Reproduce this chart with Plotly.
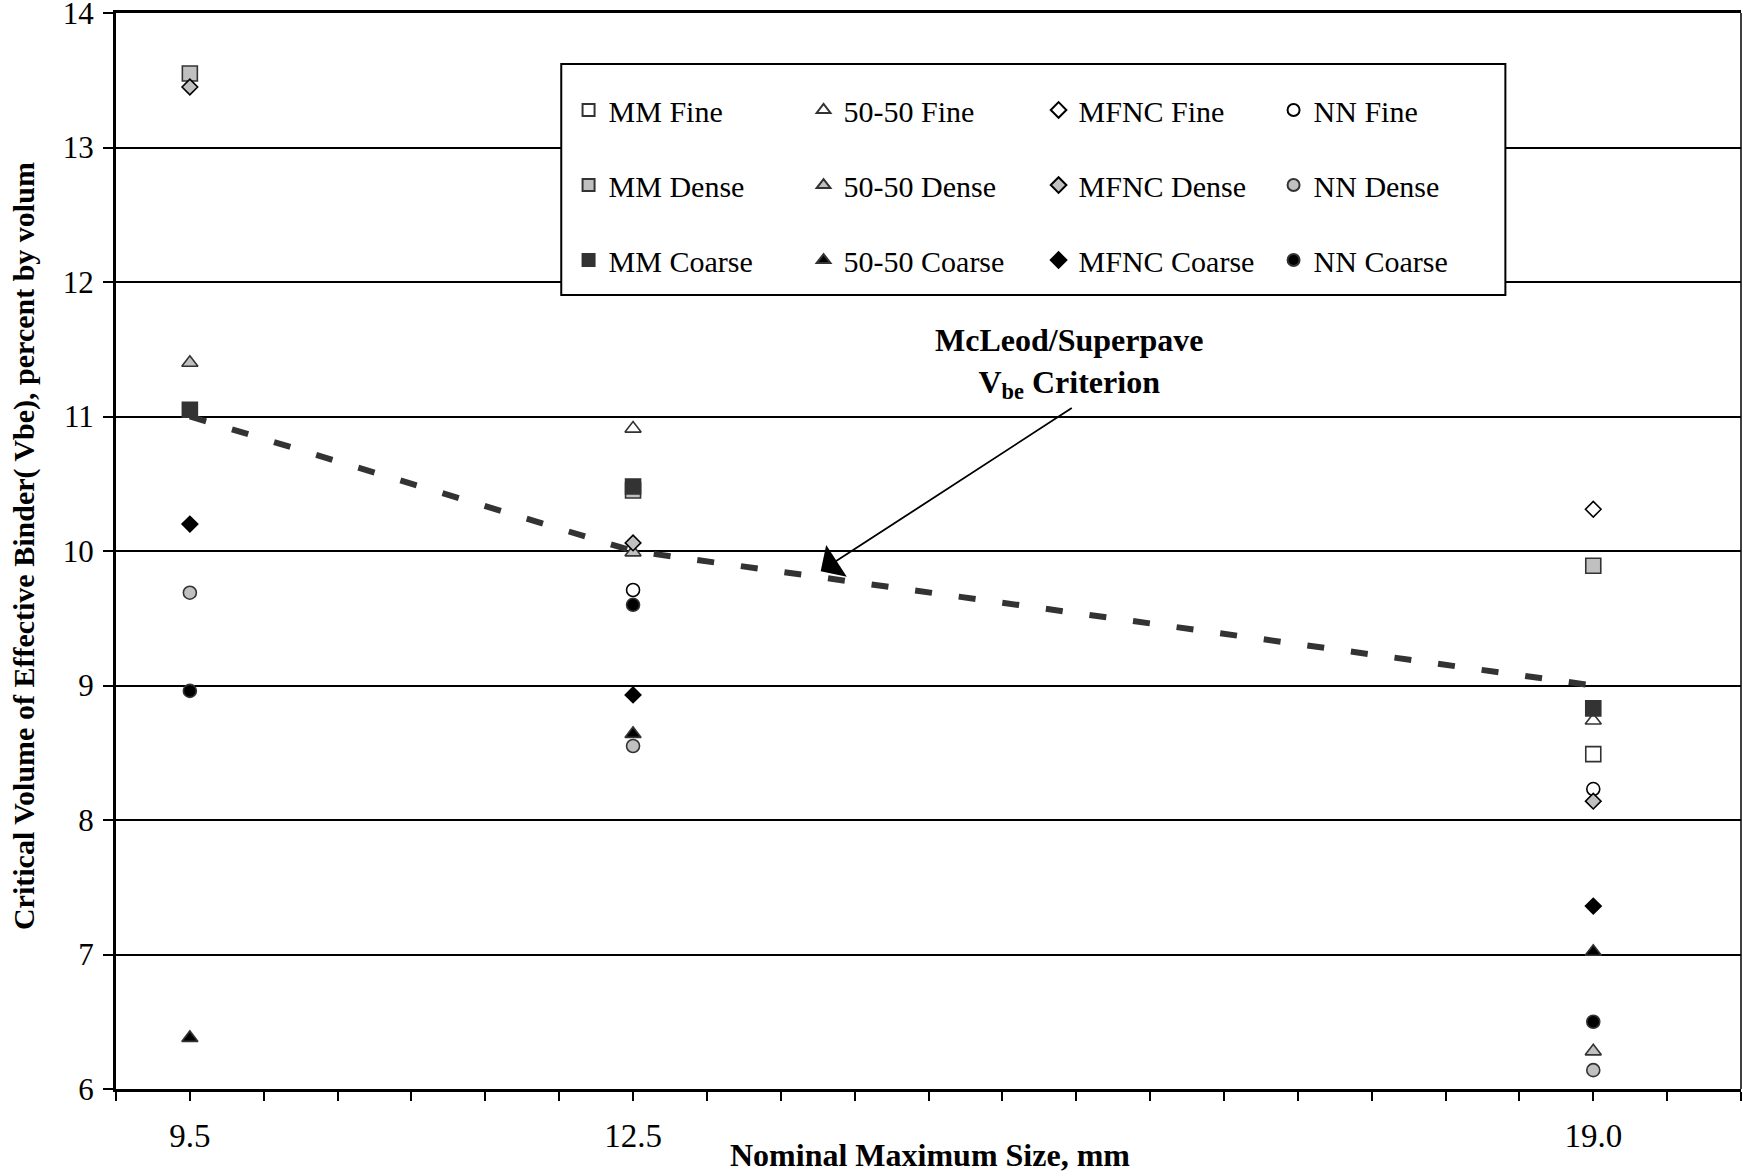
import plotly.graph_objects as go

# ---------------- data ----------------
sizes = [9.5, 12.5, 19.0]                 # nominal maximum size, mm
x_tick_labels = ["9.5", "12.5", "19.0"]

mm_fine = [None, None, 8.49]
fifty_fine = [None, 10.91, 8.74]
mfnc_fine = [None, None, 10.31]
nn_fine = [None, 9.71, 8.23]

mm_dense = [13.55, 10.45, 9.89]
fifty_dense = [11.40, 9.99, 6.28]
mfnc_dense = [13.45, 10.06, 8.14]
nn_dense = [9.69, 8.55, 6.14]

mm_coarse = [11.05, 10.48, 8.83]
fifty_coarse = [6.38, 8.64, 7.02]
mfnc_coarse = [10.20, 8.93, 7.36]
nn_coarse = [8.96, 9.60, 6.50]

criterion_vbe = [11.0, 10.0, 9.0]        # McLeod / Superpave Vbe criterion

# ---------------- styling ----------------
FONT = "Liberation Serif"
DARK = "#333333"
GREY = "#c0c0c0"

series = [
    # name, values, symbol, fill, outline, size, legend
    ("MM Fine", mm_fine, "square", "white", DARK, 15, "legend"),
    ("50-50 Fine", fifty_fine, "triangle-up", "white", DARK, 14, "legend"),
    ("MFNC Fine", mfnc_fine, "diamond", "white", "black", 12, "legend"),
    ("NN Fine", nn_fine, "circle", "white", "black", 13, "legend"),
    ("MM Dense", mm_dense, "square", GREY, DARK, 15, "legend2"),
    ("50-50 Dense", fifty_dense, "triangle-up", GREY, DARK, 14, "legend2"),
    ("MFNC Dense", mfnc_dense, "diamond", GREY, "black", 12, "legend2"),
    ("NN Dense", nn_dense, "circle", GREY, DARK, 13, "legend2"),
    ("MM Coarse", mm_coarse, "square", DARK, DARK, 15, "legend3"),
    ("50-50 Coarse", fifty_coarse, "triangle-up", "black", DARK, 14, "legend3"),
    ("MFNC Coarse", mfnc_coarse, "diamond", "black", "black", 12, "legend3"),
    ("NN Coarse", nn_coarse, "circle", "black", DARK, 13, "legend3"),
]

fig = go.Figure()

# criterion dashed line
fig.add_trace(go.Scatter(
    x=sizes, y=criterion_vbe, mode="lines",
    line=dict(color=DARK, width=6, dash="17px,27px"),
    showlegend=False, hoverinfo="skip",
))

for name, vals, sym, fill, outline, msize, leg in series:
    fig.add_trace(go.Scatter(
        x=sizes, y=vals, mode="markers", name=name, legend=leg,
        marker=dict(symbol=sym, size=msize, color=fill,
                    line=dict(color=outline, width=1.6)),
    ))

legend_common = dict(
    x=0.2785, xanchor="left", yanchor="middle", orientation="h",
    entrywidth=190, entrywidthmode="pixels",
    bgcolor="rgba(0,0,0,0)", borderwidth=0,
    font=dict(family=FONT, size=30, color="black"),
    itemsizing="constant",
)

fig.update_layout(
    width=1743, height=1176,
    margin=dict(l=116, r=2, t=13, b=87, autoexpand=False),
    paper_bgcolor="white", plot_bgcolor="white",
    font=dict(family=FONT, size=30, color="black"),
    showlegend=True,
    legend=dict(y=0.9099, **legend_common),
    legend2=dict(y=0.8401, **legend_common),
    legend3=dict(y=0.7704, **legend_common),
    xaxis=dict(
        range=[9, 20], tickmode="array", tickvals=sizes, ticktext=x_tick_labels,
        ticks="outside", ticklen=9, tickwidth=1.5, tickcolor="black",
        showline=True, linewidth=3, linecolor="black", mirror=True,
        showgrid=False, zeroline=False,
        tickfont=dict(family=FONT, size=33, color="black"),
        ticklabelstandoff=6, ticklabeloverflow="allow",
        minor=dict(dtick=0.5, tick0=9, ticks="outside", ticklen=9,
                   tickwidth=1.5, tickcolor="black", showgrid=False),
    ),
    yaxis=dict(
        range=[6, 14], tickmode="linear", tick0=6, dtick=1,
        ticks="outside", ticklen=10, tickwidth=1.5, tickcolor="black",
        showline=True, linewidth=3, linecolor="black",
        showgrid=True, gridcolor="black", gridwidth=1.5, zeroline=False,
        tickfont=dict(family=FONT, size=31, color="black"),
        ticklabelstandoff=3, ticklabeloverflow="allow",
    ),
    shapes=[
        # right frame edge
        dict(type="line", xref="paper", yref="paper", x0=1, x1=1, y0=0, y1=1,
             line=dict(color="black", width=1.5), layer="above"),
        # legend box
        dict(type="rect", xref="paper", yref="paper",
             x0=0.274, x1=0.855, y0=0.738, y1=0.9526,
             fillcolor="white", line=dict(color="black", width=2), layer="above"),
    ],
    annotations=[
        dict(x=15.45, y=11.40, xref="x", yref="y", showarrow=False,
             text="<b>McLeod/Superpave<br>V<sub>be</sub> Criterion</b>",
             font=dict(family=FONT, size=32, color="black"), align="center"),
        dict(x=13.77, y=9.85, ax=15.48, ay=11.07, xref="x", yref="y",
             axref="x", ayref="y", text="", showarrow=True,
             arrowhead=1, arrowsize=3.5, arrowwidth=1.8, arrowcolor="black",
             standoff=0, startstandoff=0),
        dict(x=0.501, y=-0.061, xref="paper", yref="paper", showarrow=False,
             text="<b>Nominal Maximum Size, mm</b>", yanchor="middle",
             font=dict(family=FONT, size=32, color="black")),
        dict(x=-0.0566, y=0.5046, xref="paper", yref="paper", showarrow=False,
             text="<b>Critical Volume of Effective Binder( Vbe), percent by volum</b>",
             textangle=-90, xanchor="center", yanchor="middle",
             font=dict(family=FONT, size=30, color="black")),
    ],
)

fig.write_html("out.html", config={"displayModeBar": False},
               post_script="document.body.style.margin='0';")
